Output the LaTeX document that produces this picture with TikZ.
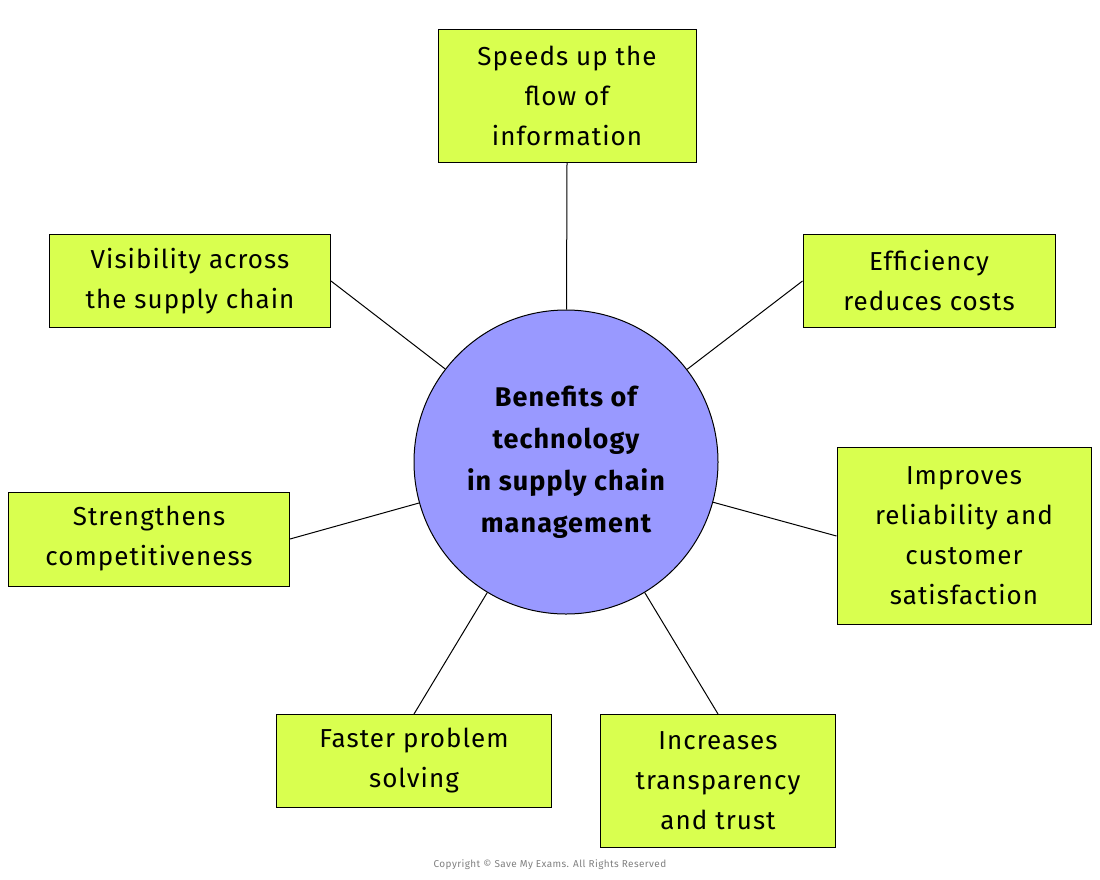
\documentclass[tikz,border=0pt]{standalone}
\usepackage{fontspec}
\setmainfont{Fira Sans}[LetterSpace=4]
\definecolor{boxgreen}{HTML}{D9FF4F}
\definecolor{hubblue}{HTML}{9999FF}
\begin{document}
\begin{tikzpicture}[x=1pt,y=-1pt, line width=1pt,
    benefit/.style={draw, fill=boxgreen, align=center, font=\fontsize{26}{40}\selectfont, inner sep=0pt},
    hub/.style={circle, draw, fill=hubblue, minimum size=304pt, align=center, font=\fontsize{27}{42}\selectfont\bfseries}]
    \useasboundingbox (0,0) rectangle (1100,879);
    \node[hub] at (566,462) (hub) {Benefits of\\technology\\in supply chain\\management};
    \node[benefit, minimum width=258pt, minimum height=133pt] at (567,96) (speed) {Speeds up the\\flow of\\information};
    \node[benefit, minimum width=252pt, minimum height=93pt] at (929,281) (eff) {Efficiency\\reduces costs};
    \node[benefit, minimum width=254pt, minimum height=177pt] at (964,536) (rel) {Improves\\reliability and\\customer\\satisfaction};
    \node[benefit, minimum width=235pt, minimum height=133pt] at (718,781) (trans) {Increases\\transparency\\and trust};
    \node[benefit, minimum width=275pt, minimum height=93pt] at (414,761) (fast) {Faster problem\\solving};
    \node[benefit, minimum width=281pt, minimum height=94pt] at (149,539) (comp) {Strengthens\\competitiveness};
    \node[benefit, minimum width=281pt, minimum height=93pt] at (190,281) (vis) {Visibility across\\the supply chain};
    \node[text=gray, font=\fontsize{10}{12}\selectfont] at (550,865) (copy) {Copyright © Save My Exams. All Rights Reserved};

    \draw (speed.south) -- (hub);
    \draw (eff.west) -- (hub);
    \draw (rel.west) -- (hub);
    \draw (trans.north) -- (hub);
    \draw (fast.north) -- (hub);
    \draw (comp.east) -- (hub);
    \draw (vis.east) -- (hub);
\end{tikzpicture}
\end{document}
